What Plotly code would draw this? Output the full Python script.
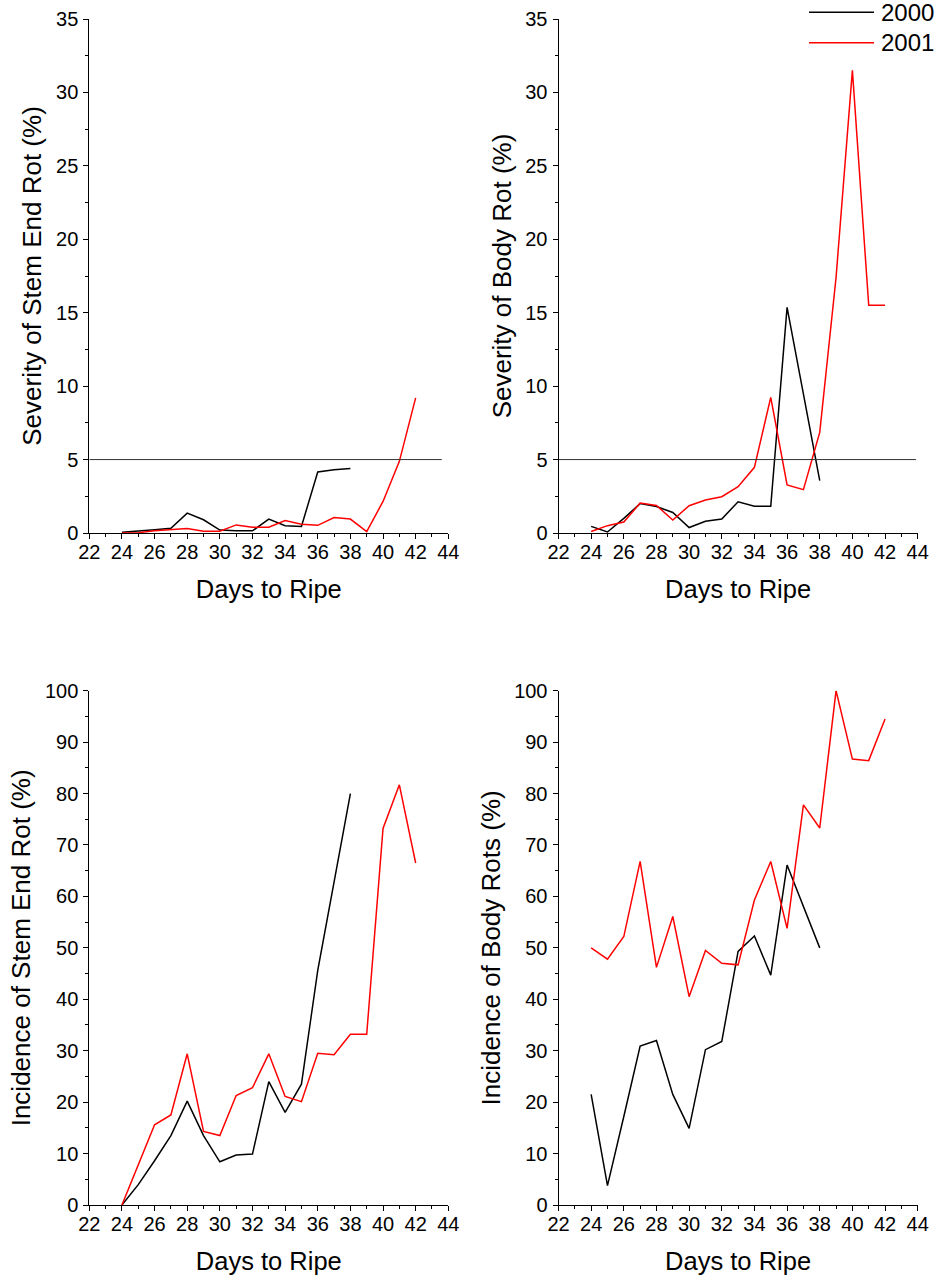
import plotly.graph_objects as go

days_2000 = list(range(24, 39))
days_2001 = list(range(24, 43))

sev_stem_2000 = [0.05, 0.12, 0.22, 0.32, 1.35, 0.9, 0.2, 0.15, 0.15, 0.95, 0.5, 0.45, 4.15, 4.3, 4.4]
sev_stem_2001 = [0, 0.02, 0.15, 0.25, 0.3, 0.12, 0.12, 0.55, 0.4, 0.4, 0.85, 0.6, 0.52, 1.05, 0.95, 0.1, 2.15, 4.88, 9.2]

sev_body_2000 = [0.45, 0.07, 1.0, 2.0, 1.8, 1.4, 0.37, 0.8, 0.95, 2.13, 1.82, 1.82, 15.36, 9.5, 3.56]
sev_body_2001 = [0.1, 0.5, 0.75, 2.04, 1.88, 0.88, 1.86, 2.25, 2.47, 3.15, 4.47, 9.24, 3.27, 2.95, 6.85, 17.4, 31.5, 15.5, 15.5]

inc_stem_2000 = [0, 3.96, 8.6, 13.5, 20.2, 13.5, 8.4, 9.7, 9.9, 24.0, 18.0, 23.5, 45.6, 63, 80]
inc_stem_2001 = [0, 7.65, 15.6, 17.5, 29.4, 14.3, 13.5, 21.3, 22.8, 29.4, 21.1, 20.1, 29.5, 29.2, 33.2, 33.2, 73.2, 81.7, 66.5]

inc_body_2000 = [21.5, 3.76, 17.2, 30.9, 32.0, 21.5, 14.9, 30.2, 31.8, 49.3, 52.3, 44.7, 66.1, 58.0, 50.0]
inc_body_2001 = [50.0, 47.8, 52.2, 66.8, 46.2, 56.1, 40.5, 49.5, 47.0, 46.7, 59.3, 66.8, 53.8, 77.8, 73.3, 100, 86.7, 86.4, 94.5]

threshold = 5
x_tick_vals = list(range(22, 45, 2))

W, H = 940, 1278
FONT = "Liberation Sans, Arial, sans-serif"

panels = [
    dict(y0=sev_stem_2000, y1=sev_stem_2001, title="Severity of Stem End Rot (%)", yr=[0, 35], dt=5, mdt=2.5,
         xd=[89.3, 448.3], yd=[19, 533], hline=43.6),
    dict(y0=sev_body_2000, y1=sev_body_2001, title="Severity of Body Rot (%)", yr=[0, 35], dt=5, mdt=2.5,
         xd=[558.5, 917.7], yd=[19, 533], hline=43.9),
    dict(y0=inc_stem_2000, y1=inc_stem_2001, title="Incidence of Stem End Rot (%)", yr=[0, 100], dt=10, mdt=5,
         xd=[89.3, 448.3], yd=[690.7, 1205], hline=None),
    dict(y0=inc_body_2000, y1=inc_body_2001, title="Incidence of Body Rots (%)", yr=[0, 100], dt=10, mdt=5,
         xd=[558.5, 917.7], yd=[690.7, 1205], hline=None),
]

fig = go.Figure()
layout = {}
for i, p in enumerate(panels, start=1):
    xa = "x" if i == 1 else f"x{i}"
    ya = "y" if i == 1 else f"y{i}"
    fig.add_trace(go.Scatter(x=days_2000, y=p["y0"], mode="lines", line=dict(color="black", width=1.5),
                             name="2000", showlegend=False, xaxis=xa, yaxis=ya))
    fig.add_trace(go.Scatter(x=days_2001, y=p["y1"], mode="lines", line=dict(color="#ff0000", width=1.5),
                             name="2001", showlegend=False, xaxis=xa, yaxis=ya))
    if p["hline"] is not None:
        fig.add_trace(go.Scatter(x=[22, p["hline"]], y=[threshold, threshold], mode="lines",
                                 line=dict(color="#333333", width=1), showlegend=False, hoverinfo="skip",
                                 xaxis=xa, yaxis=ya))
    xkey = "xaxis" if i == 1 else f"xaxis{i}"
    ykey = "yaxis" if i == 1 else f"yaxis{i}"
    layout[xkey] = dict(
        domain=[p["xd"][0] / W, p["xd"][1] / W], anchor=ya, range=[22, 44], automargin=False,
        tickvals=x_tick_vals, ticks="outside", ticklen=5, tickwidth=1, tickcolor="black",
        minor=dict(ticks="outside", ticklen=3, dtick=1, tick0=22, tickcolor="black"),
        showline=True, linecolor="black", linewidth=1, showgrid=False, zeroline=False,
        tickfont=dict(family=FONT, size=20, color="black"), ticklabelstandoff=-4,
        title=dict(text="Days to Ripe", font=dict(family=FONT, size=25.5, color="black"), standoff=18),
        fixedrange=True,
    )
    layout[ykey] = dict(
        domain=[1 - p["yd"][1] / H, 1 - p["yd"][0] / H], anchor=xa, range=p["yr"], automargin=False,
        dtick=p["dt"], tick0=0, ticks="outside", ticklen=5, tickwidth=1, tickcolor="black",
        minor=dict(ticks="outside", ticklen=3, dtick=p["mdt"], tick0=0, tickcolor="black"),
        showline=True, linecolor="black", linewidth=1, showgrid=False, zeroline=False,
        tickfont=dict(family=FONT, size=20, color="black"), ticklabelstandoff=1,
        title=dict(text=p["title"], font=dict(family=FONT, size=26, color="black"), standoff=6),
        fixedrange=True,
    )

# legend drawn in paper coordinates
legend_items = [("2000", "black", 12.3), ("2001", "#ff0000", 42.7)]
shapes = []
annotations = []
for label, color, ypix in legend_items:
    yp = 1 - ypix / H
    shapes.append(dict(type="line", xref="paper", yref="paper", x0=809 / W, x1=874 / W, y0=yp, y1=yp,
                       line=dict(color=color, width=1.5)))
    annotations.append(dict(text=label, xref="paper", yref="paper", x=879 / W, y=yp, xanchor="left",
                            yanchor="middle", showarrow=False,
                            font=dict(family=FONT, size=24, color="black")))

fig.update_layout(
    width=W, height=H, margin=dict(l=0, r=0, t=0, b=0),
    paper_bgcolor="white", plot_bgcolor="white", showlegend=False,
    shapes=shapes, annotations=annotations,
    font=dict(family=FONT, color="black"),
    **layout,
)

fig.write_html("out.html", config={"displayModeBar": False},
               post_script="document.body.style.margin='0';document.body.style.overflow='hidden';")
